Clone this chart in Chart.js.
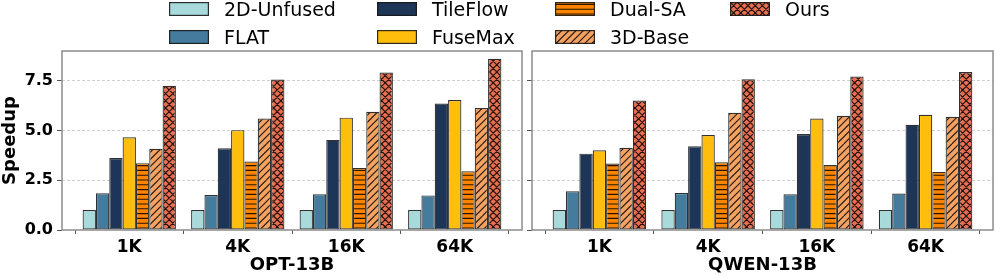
<!DOCTYPE html>
<html>
<head>
<meta charset="utf-8">
<style>
  body { margin: 0; background: #fff; }
  #wrap { position: relative; width: 996px; height: 276px; overflow: hidden; }
  canvas { position: absolute; top: 0; }
  #legend { position: absolute; left: 0; top: 0; width: 996px; height: 50px; z-index: 2; }
  .sw { position: absolute; }
  .lt { position: absolute; font-family: 'DejaVu Sans'; font-size: 19px; line-height: 19px; color: #000; white-space: nowrap; }
</style>
</head>
<body>
<div id="wrap">
  <canvas id="optChart" width="527" height="276" style="left:0"></canvas>
  <canvas id="qwenChart" width="469" height="276" style="left:527px"></canvas>
  <div id="legend"></div>
</div>

<script src="https://cdn.jsdelivr.net/npm/chart.js"></script>
<script>
// data
const categories = ['1K', '4K', '16K', '64K'];
const methods = ['2D-Unfused', 'FLAT', 'TileFlow', 'FuseMax', 'Dual-SA', '3D-Base', 'Ours'];
const yTicks = [0, 2.5, 5, 7.5];

// OPT-13B
const optUnfused  = [1.00, 1.00, 1.00, 1.00];
const optFlat     = [1.85, 1.76, 1.80, 1.74];
const optTileflow = [3.62, 4.11, 4.53, 6.36];
const optFusemax  = [4.66, 5.02, 5.65, 6.54];
const optDualSA   = [3.36, 3.44, 3.12, 2.95];
const opt3DBase   = [4.08, 5.60, 5.94, 6.14];
const optOurs     = [7.25, 7.57, 7.92, 8.61];

// QWEN-13B
const qwenUnfused  = [1.00, 1.00, 1.00, 1.00];
const qwenFlat     = [1.95, 1.86, 1.80, 1.83];
const qwenTileflow = [3.84, 4.21, 4.83, 5.29];
const qwenFusemax  = [4.01, 4.78, 5.60, 5.79];
const qwenDualSA   = [3.34, 3.41, 3.27, 2.92];
const qwen3DBase   = [4.13, 5.89, 5.74, 5.69];
const qwenOurs     = [6.51, 7.58, 7.72, 7.94];

const colors  = ['#a8dadc', '#457b9d', '#1d3557', '#ffbe0b', '#fb8500', '#f4a261', '#e76f51'];
const hatches = ['', '', '', '', '-', '/', 'x'];
const edgeColor = 'rgba(25,25,25,0.9)';

Chart.defaults.font.family = 'DejaVu Sans';
Chart.defaults.color = '#000';

// build a hatched fill like matplotlib's '---', '//', 'xx'
function makeFill(color, hatch) {
    if (!hatch) return color;
    const c = document.createElement('canvas');
    const size = hatch === '-' ? 24 : 36;
    c.width = size; c.height = size;
    const g = c.getContext('2d');
    g.fillStyle = color;
    g.fillRect(0, 0, size, size);
    g.strokeStyle = 'rgba(0,0,0,0.85)';
    g.lineWidth = 1.1;
    g.beginPath();
    if (hatch === '-') {
        for (let i = 0; i < 5; i++) {
            const y = i * 4.8 + 2.4;
            g.moveTo(0, y); g.lineTo(size, y);
        }
    } else {
        const step = 7.2;
        for (let i = -6; i <= 11; i++) {
            g.moveTo(i * step, size); g.lineTo(i * step + size, 0);
            if (hatch === 'x') { g.moveTo(i * step, 0); g.lineTo(i * step + size, size); }
        }
    }
    g.stroke();
    return g.createPattern(c, 'repeat');
}

const fills = colors.map((c, i) => makeFill(c, hatches[i]));

const framePlugin = {
    id: 'frame',
    afterDraw(chart) {
        const {ctx, chartArea: a} = chart;
        ctx.save();
        ctx.strokeStyle = '#8c8c8c';
        ctx.lineWidth = 1.5;
        ctx.strokeRect(a.left, a.top, a.right - a.left, a.bottom - a.top);
        ctx.restore();
    }
};

function makeChart(id, title, series, showY) {
    const ctx = document.getElementById(id).getContext('2d');
    return new Chart(ctx, {
        type: 'bar',
        data: {
            datasets: series.map((vals, i) => ({
                label: methods[i],
                data: vals.map((v, j) => ({x: j, y: v})),
                backgroundColor: fills[i],
                borderColor: edgeColor,
                borderWidth: 1.2,
                borderSkipped: false,
                categoryPercentage: 0.86,
                barPercentage: 1.0
            }))
        },
        options: {
            responsive: false,
            animation: false,
            layout: { padding: { top: 51, left: 0, right: showY ? 5 : 3, bottom: 0 } },
            plugins: { legend: { display: false }, tooltip: { enabled: false } },
            scales: {
                x: {
                    type: 'linear',
                    offset: false,
                    min: -0.62,
                    max: 3.62,
                    afterBuildTicks: s => { s.ticks = categories.map((c, j) => ({value: j})); },
                    afterFit: s => { s.height = 46; },
                    ticks: {
                        callback: v => categories[v],
                        font: { size: 17, weight: 'bold' },
                        padding: 3,
                        maxRotation: 0
                    },
                    grid: { drawOnChartArea: false, drawTicks: true, tickLength: 4, tickColor: '#555', tickWidth: 1 },
                    border: { display: false },
                    title: {
                        display: true,
                        text: title,
                        font: { size: 18, weight: 'bold' },
                        padding: { top: 0, bottom: 0 }
                    }
                },
                y: {
                    min: 0,
                    max: 9,
                    z: 1,
                    afterBuildTicks: s => { s.ticks = yTicks.map(v => ({value: v})); },
                    afterFit: s => { s.width = showY ? 62 : 5; },
                    ticks: {
                        display: showY,
                        callback: v => v.toFixed(1),
                        font: { size: 16, weight: 'bold' },
                        padding: 4
                    },
                    grid: {
                        color: c => c.tick && c.tick.value === 0 ? 'rgba(0,0,0,0)' : 'rgba(150,150,150,0.45)',
                        lineWidth: 1,
                        drawTicks: true,
                        tickLength: 5,
                        tickColor: '#555',
                        tickWidth: 1
                    },
                    border: { display: false, dash: [3, 2] },
                    title: {
                        display: showY,
                        text: 'Speedup',
                        font: { size: 18, weight: 'bold' },
                        padding: { top: 0, bottom: 0 }
                    }
                }
            }
        },
        plugins: [framePlugin]
    });
}

makeChart('optChart', 'OPT-13B',
    [optUnfused, optFlat, optTileflow, optFusemax, optDualSA, opt3DBase, optOurs], true);
makeChart('qwenChart', 'QWEN-13B',
    [qwenUnfused, qwenFlat, qwenTileflow, qwenFusemax, qwenDualSA, qwen3DBase, qwenOurs], false);

// legend, 4 columns filled column by column
const legendColX = [169, 377, 555, 730];
const legendRowY = [2, 30];
const legend = document.getElementById('legend');
methods.forEach((name, i) => {
    const col = Math.floor(i / 2), row = i % 2;
    const sw = document.createElement('canvas');
    sw.width = 40; sw.height = 14;
    sw.className = 'sw';
    sw.style.left = legendColX[col] + 'px';
    sw.style.top = legendRowY[row] + 'px';
    const g = sw.getContext('2d');
    g.fillStyle = fills[i];
    g.fillRect(0, 0, 40, 14);
    g.strokeStyle = edgeColor;
    g.lineWidth = 1.2;
    g.strokeRect(0.6, 0.6, 38.8, 12.8);
    legend.appendChild(sw);
    const t = document.createElement('div');
    t.className = 'lt';
    t.textContent = name;
    t.style.left = (legendColX[col] + 55) + 'px';
    t.style.top = (legendRowY[row] - 2) + 'px';
    legend.appendChild(t);
});
</script>
</body>
</html>
